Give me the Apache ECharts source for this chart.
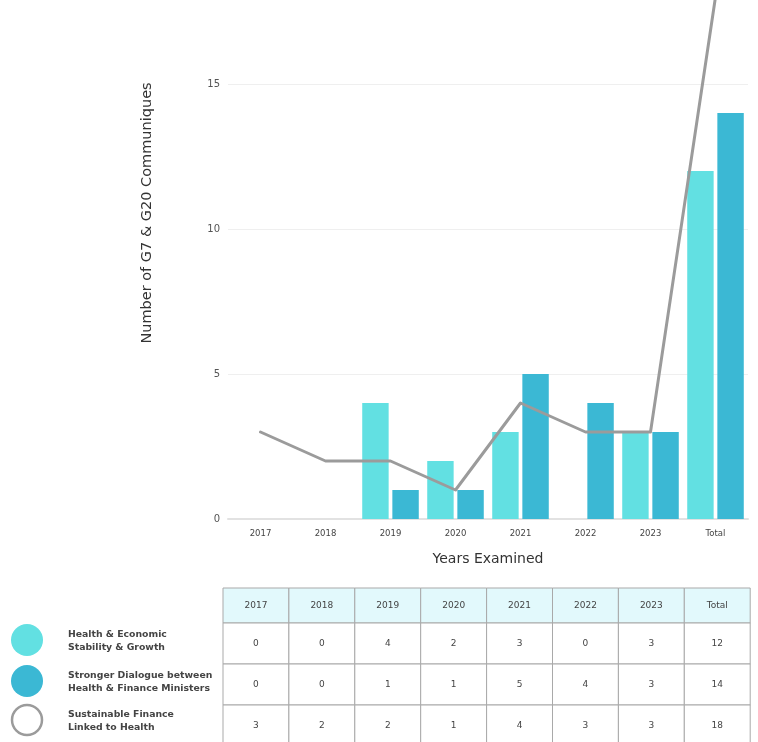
<!DOCTYPE html>
<html>
<head>
<meta charset="utf-8">
<script src="https://cdn.jsdelivr.net/npm/echarts@6/dist/echarts.min.js"></script>
<style>
  html, body { margin: 0; padding: 0; background: #fff; }
  #chart { width: 758px; height: 742px; }
</style>
</head>
<body>
<div id="chart"></div>
<script>
// Categories and values per theme
const categories = ['2017', '2018', '2019', '2020', '2021', '2022', '2023', 'Total'];
const stabilityGrowth = [0, 0, 4, 2, 3, 0, 3, 12];
const financeDialogue = [0, 0, 1, 1, 5, 4, 3, 14];
const sustainableFinance = [3, 2, 2, 1, 4, 3, 3, 18];
const seriesNames = [
  'Health & Economic\nStability & Growth',
  'Stronger Dialogue between\nHealth & Finance Ministers',
  'Sustainable Finance\nLinked to Health'
];
const yTicks = [0, 5, 10, 15];

const FONT = '"DejaVu Sans", "Noto Sans", sans-serif';
const LIGHT = '#62e0e2';
const DARK = '#3bb8d4';
const GREY = '#9b9b9b';

const chart = echarts.init(document.getElementById('chart'));

// Data table under the chart, built from the same arrays
function buildTable() {
  const els = [];
  const left = 223, top = 588, colW = 65.9;
  const rowH = [35, 41, 41, 41];
  const rows = [categories, stabilityGrowth, financeDialogue, sustainableFinance];
  let y = top;
  rows.forEach((row, r) => {
    row.forEach((v, c) => {
      const x = left + c * colW;
      els.push({
        type: 'rect',
        shape: { x: x, y: y, width: colW, height: rowH[r] },
        style: { fill: r === 0 ? '#e2f9fc' : '#ffffff', stroke: '#a9a9a9', lineWidth: 1 },
        z: 1
      });
      els.push({
        type: 'text',
        x: x + colW / 2, y: y + rowH[r] / 2,
        style: {
          text: String(v), align: 'center', verticalAlign: 'middle',
          fontSize: 9, fontFamily: FONT, fill: '#444'
        },
        z: 2
      });
    });
    y += rowH[r];
  });
  return els;
}

// Legend dots and labels to the left of the table
function buildLegend() {
  const els = [];
  const centers = [640, 681, 720];
  const fills = [LIGHT, DARK, null];
  centers.forEach((cy, i) => {
    els.push({
      type: 'circle',
      shape: { cx: 27, cy: cy, r: fills[i] ? 16 : 15 },
      style: fills[i] ? { fill: fills[i] } : { fill: '#fff', stroke: GREY, lineWidth: 2.5 },
      z: 2
    });
    els.push({
      type: 'text',
      x: 68, y: cy + 1,
      style: {
        text: seriesNames[i], align: 'left', verticalAlign: 'middle',
        fontSize: 9.3, fontWeight: 'bold', lineHeight: 12.5,
        fontFamily: FONT, fill: '#444'
      },
      z: 2
    });
  });
  return els;
}

const yAxisTitle = {
  type: 'text',
  x: 147, y: 213,
  rotation: Math.PI / 2,
  style: {
    text: 'Number of G7 & G20 Communiques',
    align: 'center', verticalAlign: 'middle',
    fontSize: 14.5, fontFamily: FONT, fill: '#333'
  }
};

chart.setOption({
  animation: false,
  grid: { left: 228, right: 10, top: 84, height: 435 },
  xAxis: {
    type: 'category',
    data: categories,
    name: 'Years Examined',
    nameLocation: 'middle',
    nameGap: 33,
    nameTextStyle: { fontSize: 14, fontFamily: FONT, color: '#333' },
    axisLine: { lineStyle: { color: '#e2e2e2', width: 2 } },
    axisTick: { show: false },
    axisLabel: { fontSize: 8.5, fontFamily: FONT, color: '#444', margin: 10 }
  },
  yAxis: {
    type: 'value',
    min: yTicks[0],
    max: yTicks[yTicks.length - 1],
    interval: yTicks[1] - yTicks[0],
    axisLine: { show: false },
    axisTick: { show: false },
    axisLabel: { fontSize: 10, fontFamily: FONT, color: '#555', margin: 8 },
    splitLine: { lineStyle: { color: '#efefef', width: 1 } }
  },
  series: [
    {
      name: seriesNames[0], type: 'bar', data: stabilityGrowth,
      itemStyle: { color: LIGHT }, barCategoryGap: '13%', barGap: '14%'
    },
    {
      name: seriesNames[1], type: 'bar', data: financeDialogue,
      itemStyle: { color: DARK }, barCategoryGap: '13%', barGap: '14%'
    },
    {
      name: seriesNames[2], type: 'line', data: sustainableFinance,
      clip: false, showSymbol: false, symbol: 'none', z: 5,
      lineStyle: { color: GREY, width: 3, cap: 'round', join: 'round' }
    }
  ],
  graphic: [yAxisTitle].concat(buildTable(), buildLegend())
});
</script>
</body>
</html>
